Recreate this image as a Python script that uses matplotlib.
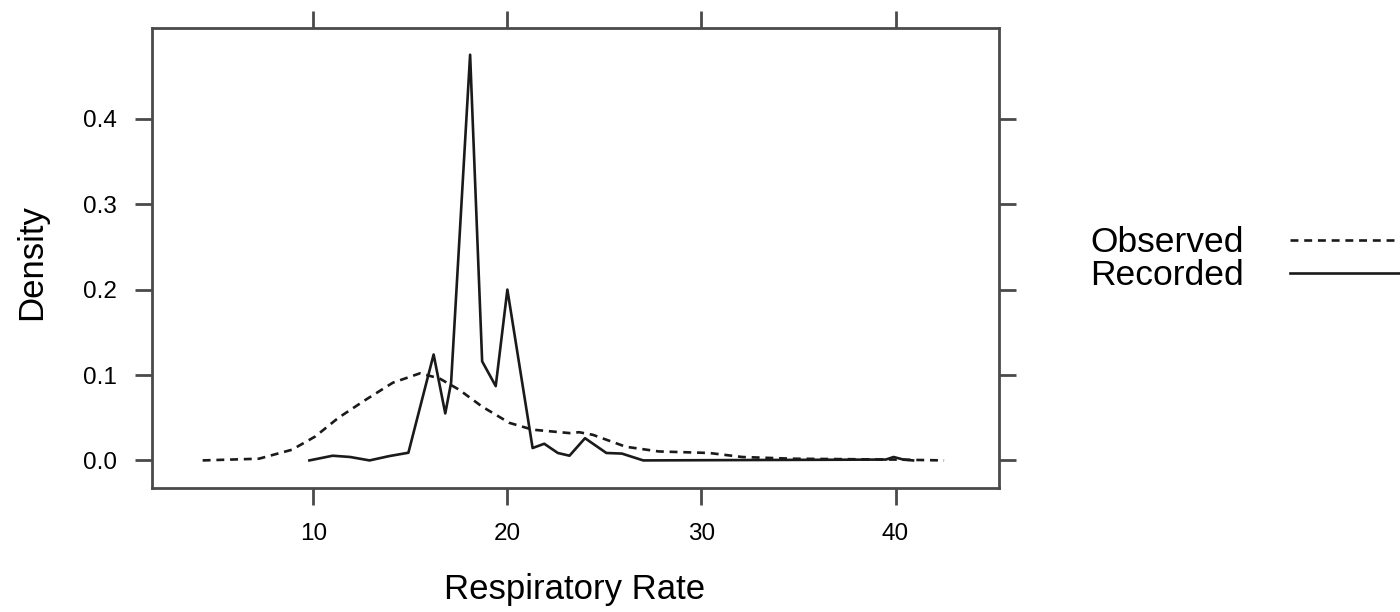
import matplotlib
matplotlib.use('Agg')
import matplotlib.pyplot as plt
from matplotlib.lines import Line2D

plt.rcParams['font.family'] = ['Liberation Sans', 'DejaVu Sans']

# Observed (dashed) density curve
obs_x = [4.3, 7.2, 8.9, 10.1, 11.3, 12.7, 14.1, 15.5, 16.5, 17.5, 18.7, 20.1,
         21.3, 23.2, 23.7, 24.4, 26.1, 27.8, 30.4, 32.1, 34.7, 39.9, 42.5]
obs_y = [0.0, 0.002, 0.0125, 0.028, 0.05, 0.071, 0.091, 0.102, 0.096, 0.083, 0.063, 0.044,
         0.036, 0.032, 0.033, 0.030, 0.016, 0.0105, 0.0087, 0.004, 0.002, 0.001, 0.0]

# Recorded (solid) density curve
rec_x = [9.8, 11.0, 11.9, 12.9, 13.9, 14.9, 16.2, 16.8, 17.1, 18.08, 18.7, 19.4, 20.0,
         21.3, 21.9, 22.6, 23.2, 24.0, 25.1, 25.9, 27.0, 39.5, 39.9, 40.4, 40.9]
rec_y = [0.0, 0.0055, 0.004, 0.0, 0.005, 0.009, 0.124, 0.055, 0.091, 0.475, 0.116, 0.087, 0.200,
         0.0145, 0.0195, 0.0087, 0.0055, 0.026, 0.0087, 0.008, 0.0, 0.001, 0.004, 0.001, 0.0]

x_ticks = [10, 20, 30, 40]
y_ticks = [0.0, 0.1, 0.2, 0.3, 0.4]

frame_col = '#4a4a4a'
line_col = '#1a1a1a'
W, H = 1400, 612

fig = plt.figure(figsize=(14, 6.12), dpi=100)
ax = fig.add_axes([152 / W, 1 - 488 / H, (999 - 152) / W, (488 - 28) / H])

ax.plot(obs_x, obs_y, color=line_col, lw=1.9, ls=(0, (3, 2.2)))
ax.plot(rec_x, rec_y, color=line_col, lw=1.9)

ax.set_xlim(1.69, 45.33)
ax.set_ylim(-0.0323, 0.5063)
ax.set_xticks(x_ticks)
ax.set_yticks(y_ticks)
ax.set_yticklabels([f'{v:.1f}' for v in y_ticks])

for s in ax.spines.values():
    s.set_color(frame_col)
    s.set_linewidth(2)
ax.tick_params(direction='out', length=12, width=2, color=frame_col,
               labelsize=17.5, pad=13, top=True, right=True,
               labeltop=False, labelright=False)

# axis titles placed in figure pixels
fig.text(575 / W, 1 - 590 / H, 'Respiratory Rate', fontsize=25,
         ha='center', va='center')
fig.text(32 / W, 1 - 262 / H, 'Density', fontsize=25, rotation=90,
         ha='center', va='center')

handles = [Line2D([], [], color=line_col, lw=1.9, ls=(0, (3, 2.2))),
           Line2D([], [], color=line_col, lw=1.9)]
fig.legend(handles, ['Observed', 'Recorded'], loc='center left',
           bbox_to_anchor=(1090 / W, 1 - 259 / H), frameon=False,
           fontsize=25.5, markerfirst=False, handlelength=3.6, handletextpad=1.3,
           labelspacing=0.0, borderpad=0, borderaxespad=0)

fig.savefig('out.png', dpi=100)
